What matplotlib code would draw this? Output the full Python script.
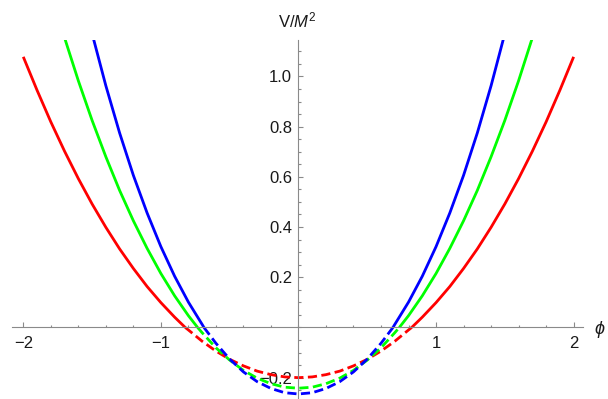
import numpy as np
import matplotlib
matplotlib.use('Agg')
import matplotlib.pyplot as plt
from matplotlib.ticker import MultipleLocator

# ── Potential curves V/M^2 vs phi (sampled) ───────────────────────────────
phi_red = [-2.0, -1.9, -1.8, -1.7, -1.6, -1.5, -1.4, -1.3, -1.2, -1.1, -1.0, -0.9,
           -0.823, -0.8, -0.7, -0.6, -0.5, -0.4, -0.3, -0.2, -0.1, 0.0,
           0.1, 0.2, 0.3, 0.4, 0.5, 0.6, 0.7, 0.8, 0.823,
           0.9, 1.0, 1.1, 1.2, 1.3, 1.4, 1.5, 1.6, 1.7, 1.8, 1.9, 2.0]
v_red = [1.078, 0.945, 0.819, 0.702, 0.593, 0.492, 0.399, 0.313, 0.235, 0.163, 0.099, 0.041,
         0.0, -0.010, -0.055, -0.094, -0.127, -0.153, -0.174, -0.188, -0.197, -0.200,
         -0.197, -0.188, -0.174, -0.153, -0.127, -0.094, -0.055, -0.010, 0.0,
         0.041, 0.099, 0.163, 0.235, 0.313, 0.399, 0.492, 0.593, 0.702, 0.819, 0.945, 1.078]

phi_green = [-1.7, -1.6, -1.5, -1.4, -1.3, -1.2, -1.1, -1.0, -0.9, -0.8,
             -0.733, -0.7, -0.6, -0.5, -0.4, -0.3, -0.2, -0.1, 0.0,
             0.1, 0.2, 0.3, 0.4, 0.5, 0.6, 0.7, 0.733,
             0.8, 0.9, 1.0, 1.1, 1.2, 1.3, 1.4, 1.5, 1.6, 1.7]
v_green = [1.154, 0.983, 0.825, 0.680, 0.546, 0.425, 0.315, 0.215, 0.126, 0.047,
           0.0, -0.021, -0.081, -0.130, -0.171, -0.202, -0.224, -0.238, -0.242,
           -0.238, -0.224, -0.202, -0.171, -0.130, -0.081, -0.021, 0.0,
           0.047, 0.126, 0.215, 0.315, 0.425, 0.546, 0.680, 0.825, 0.983, 1.154]

phi_blue = [-1.5, -1.4, -1.3, -1.2, -1.1, -1.0, -0.9, -0.8, -0.7,
            -0.687, -0.6, -0.5, -0.4, -0.3, -0.2, -0.1, 0.0,
            0.1, 0.2, 0.3, 0.4, 0.5, 0.6, 0.687,
            0.7, 0.8, 0.9, 1.0, 1.1, 1.2, 1.3, 1.4, 1.5]
v_blue = [1.171, 0.963, 0.775, 0.606, 0.456, 0.322, 0.204, 0.101, 0.012,
          0.0, -0.063, -0.126, -0.177, -0.216, -0.243, -0.260, -0.265,
          -0.260, -0.243, -0.216, -0.177, -0.126, -0.063, 0.0,
          0.012, 0.101, 0.204, 0.322, 0.456, 0.606, 0.775, 0.963, 1.171]

x_major = [-2, -1, 1, 2]
y_major = [-0.2, 0.2, 0.4, 0.6, 0.8, 1.0]

plt.rcParams['font.family'] = ['Liberation Sans', 'DejaVu Sans']
plt.rcParams['mathtext.fontset'] = 'custom'
plt.rcParams['mathtext.rm'] = 'Liberation Sans'
plt.rcParams['mathtext.it'] = 'Liberation Sans:italic'

axis_gray = '#8a8a8a'

fig = plt.figure(figsize=(6.08, 3.99), dpi=100)
ax = fig.add_axes([12 / 608, 0.0, 571 / 608, 359 / 399])
ax.set_xlim(-2.082, 2.068)
ax.set_ylim(-0.285, 1.145)

# solid where V >= 0, dashed inside the well
for phi, v, col in [(phi_red, v_red, 'red'), (phi_green, v_green, '#00ff00'),
                    (phi_blue, v_blue, 'blue')]:
    phi = np.array(phi)
    v = np.array(v)
    ax.plot(phi, np.where(v >= 0, v, np.nan), color=col, lw=2.0,
            solid_capstyle='butt')
    ax.plot(phi, np.where(v <= 0, v, np.nan), color=col, lw=2.0,
            dashes=(3.3, 1.6), dash_capstyle='butt')

# ── Axes through the origin ───────────────────────────────────────────────
for s in ['top', 'right']:
    ax.spines[s].set_visible(False)
for s in ['left', 'bottom']:
    ax.spines[s].set_position(('data', 0))
    ax.spines[s].set_color(axis_gray)
    ax.spines[s].set_linewidth(0.8)

ax.set_xticks(x_major)
ax.set_xticklabels([f"{t:g}".replace('-', '\u2212') for t in x_major])
ax.set_yticks(y_major)
ax.set_yticklabels([f"{t:.1f}".replace('-', '\u2212') for t in y_major])
ax.xaxis.set_minor_locator(MultipleLocator(0.2))
ax.yaxis.set_minor_locator(MultipleLocator(0.05))

ax.tick_params(which='both', direction='in', color=axis_gray, width=0.8,
               labelsize=12, labelcolor='#1a1a1a')
ax.tick_params(which='major', length=3.3)
ax.tick_params(which='minor', length=1.8)
ax.tick_params(axis='x', which='major', pad=6)
ax.tick_params(axis='y', which='major', pad=4.5)

fig.text(600 / 608, 1 - 330 / 399, r'$\phi$', fontsize=13,
         ha='center', va='center', color='#1a1a1a')
fig.text(297 / 608, 1 - 20 / 399, r'$\mathrm{V/}M^2$', fontsize=12,
         ha='center', va='center', color='#1a1a1a')

plt.savefig('out.png', dpi=100)
